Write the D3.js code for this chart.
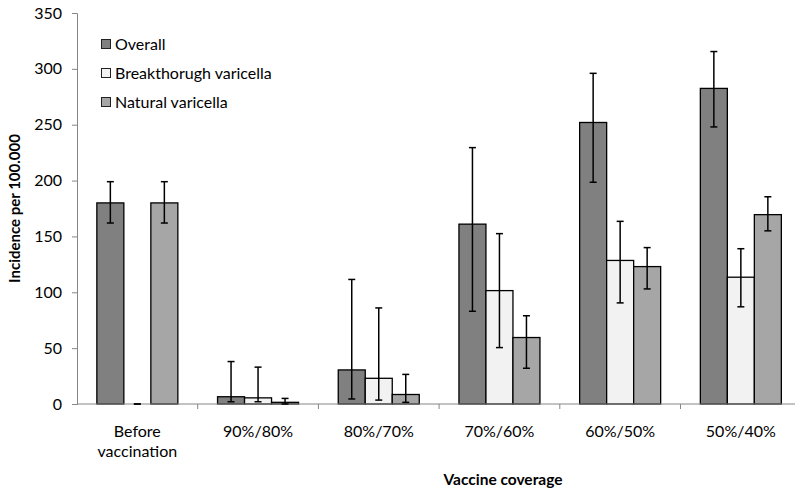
<!DOCTYPE html>
<html>
<head>
<meta charset="utf-8">
<script src="https://cdn.jsdelivr.net/npm/d3@7/dist/d3.min.js"></script>
<style>
  html, body { margin: 0; padding: 0; background: #fff; }
  svg { display: block; font-family: Lato, "Open Sans", sans-serif; }
</style>
</head>
<body>
<svg id="chart" width="795" height="491"></svg>
<script>
// Vaccine coverage scenarios
const categories = ["Before vaccination", "90%/80%", "80%/70%", "70%/60%", "60%/50%", "50%/40%"];
const series = ["Overall", "Breakthorugh varicella", "Natural varicella"];

// Incidence per 100.000 with lower / upper bounds
const overall      = [180, 6.5, 30.5, 161, 252, 282.5];
const overallLow   = [162, 2, 4.5, 83, 198.5, 248];
const overallHigh  = [199, 38, 111.5, 229.5, 296, 315.5];

const breakthrough     = [0, 5.5, 23, 101.5, 128.5, 113.5];
const breakthroughLow  = [0, 2, 3.5, 50.5, 90.5, 87];
const breakthroughHigh = [0, 33, 86, 152.5, 163.5, 139];

const natural     = [180, 1.5, 8.5, 59.5, 123, 169.5];
const naturalLow  = [162, 0, 1.5, 32, 103, 155];
const naturalHigh = [199, 5, 26.5, 79, 140, 185.5];

const yTicks = [0, 50, 100, 150, 200, 250, 300, 350];

const colors = ["#808080", "#f2f2f2", "#a6a6a6"];
const values = [overall, breakthrough, natural];
const lows = [overallLow, breakthroughLow, naturalLow];
const highs = [overallHigh, breakthroughHigh, naturalHigh];

const svg = d3.select("#chart");
const axisColor = "#868686";

const plotLeft = 77, plotTop = 13, plotBottom = 404;
const step = 120.7;

const y = d3.scaleLinear().domain([0, 350]).range([plotBottom, plotTop]);
const x0 = d3.scaleBand().domain(categories).range([plotLeft, plotLeft + step * categories.length]).padding(0);
const x1 = d3.scaleBand().domain(series).range([0, x0.bandwidth()]).paddingInner(0).paddingOuter(0.735);

// Rows for drawing
const rows = [];
categories.forEach((c, i) => {
  series.forEach((s, k) => {
    rows.push({ cat: c, s: s, k: k, v: values[k][i], lo: lows[k][i], hi: highs[k][i] });
  });
});

// Bars
svg.append("g").selectAll("rect").data(rows).join("rect")
  .attr("x", d => x0(d.cat) + x1(d.s))
  .attr("y", d => y(d.v))
  .attr("width", x1.bandwidth())
  .attr("height", d => y(0) - y(d.v))
  .attr("fill", d => colors[d.k])
  .attr("stroke", "#000")
  .attr("stroke-width", 1.3);

// Y axis
const yAxis = svg.append("g")
  .attr("transform", `translate(${plotLeft},0)`)
  .call(d3.axisLeft(y).tickValues(yTicks).tickSize(5).tickPadding(10).tickFormat(d3.format("d")));
yAxis.select(".domain").attr("stroke", axisColor);
yAxis.selectAll(".tick line").attr("stroke", axisColor);
yAxis.selectAll(".tick text").attr("fill", "#000").style("font-size", "16px").style("font-family", "Lato, sans-serif");

// X axis line and category boundary ticks
svg.append("line")
  .attr("x1", plotLeft).attr("x2", 795)
  .attr("y1", y(0)).attr("y2", y(0))
  .attr("stroke", axisColor).attr("stroke-width", 1);
svg.append("g").selectAll("line").data(categories.slice(1)).join("line")
  .attr("x1", d => x0(d)).attr("x2", d => x0(d))
  .attr("y1", y(0)).attr("y2", y(0) + 5)
  .attr("stroke", axisColor);

// Category labels (wrapped)
const catLabels = svg.append("g").selectAll("text").data(categories).join("text")
  .attr("x", d => x0(d) + x0.bandwidth() / 2)
  .attr("y", 437)
  .attr("text-anchor", "middle")
  .style("font-size", "16px")
  .attr("fill", "#000");
catLabels.each(function(d) {
  const words = d === "Before vaccination" ? ["Before", "vaccination"] : [d];
  const t = d3.select(this);
  words.forEach((w, i) => {
    t.append("tspan").attr("x", x0(d) + x0.bandwidth() / 2).attr("dy", i === 0 ? 0 : 20).text(w);
  });
});

// Error bars
const eb = svg.append("g").attr("stroke", "#000").attr("stroke-width", 1.5);
rows.forEach(d => {
  const cx = x0(d.cat) + x1(d.s) + x1.bandwidth() / 2;
  eb.append("line").attr("x1", cx).attr("x2", cx).attr("y1", y(d.lo)).attr("y2", y(d.hi));
  eb.append("line").attr("x1", cx - 3.5).attr("x2", cx + 3.5).attr("y1", y(d.hi)).attr("y2", y(d.hi));
  eb.append("line").attr("x1", cx - 3.5).attr("x2", cx + 3.5).attr("y1", y(d.lo)).attr("y2", y(d.lo));
});

// Axis titles
svg.append("text")
  .attr("transform", `translate(20,${(plotTop + plotBottom) / 2}) rotate(-90)`)
  .attr("text-anchor", "middle")
  .style("font-size", "15px").style("font-weight", "bold")
  .text("Incidence per 100.000");
svg.append("text")
  .attr("x", 503).attr("y", 485)
  .attr("text-anchor", "middle")
  .style("font-size", "15.5px").style("font-weight", "bold")
  .text("Vaccine coverage");

// Legend
const legend = svg.append("g").selectAll("g").data(series).join("g")
  .attr("transform", (d, i) => `translate(101,${44 + i * 29})`);
legend.append("rect")
  .attr("x", 0.5).attr("y", -4.5).attr("width", 9).attr("height", 9)
  .attr("fill", (d, i) => colors[i]).attr("stroke", "#222").attr("stroke-width", 1);
legend.append("text")
  .attr("x", 14).attr("y", 6)
  .style("font-size", "16px")
  .text(d => d);
</script>
</body>
</html>
